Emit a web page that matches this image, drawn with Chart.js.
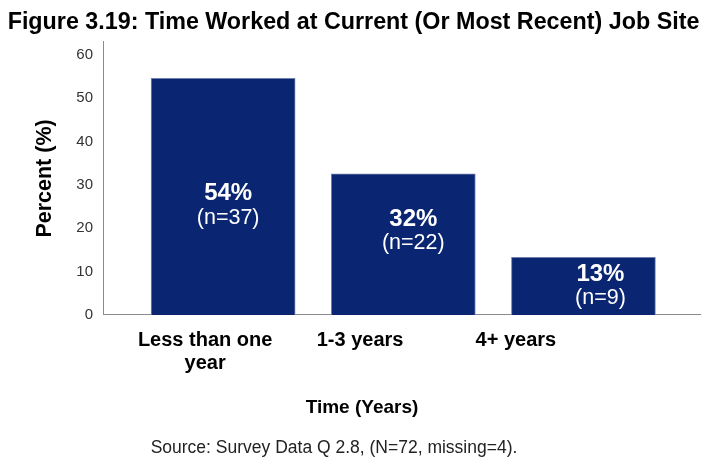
<!DOCTYPE html>
<html>
<head>
<meta charset="utf-8">
<script src="https://cdn.jsdelivr.net/npm/chart.js@4"></script>
<style>
  html, body { margin: 0; padding: 0; background: #fff; }
  #wrap { width: 707px; height: 457px; }
</style>
</head>
<body>
<div id="wrap"><canvas id="chart"></canvas></div>
<script>
// data
const categories = [['Less than one', 'year'], '1-3 years', '4+ years'];
const percents = [54.6, 32.6, 13.3];
const counts = [37, 22, 9];
const pctLabels = ['54%', '32%', '13%'];
const yTicks = [0, 10, 20, 30, 40, 50, 60];

const chartTitle = 'Figure 3.19: Time Worked at Current (Or Most Recent) Job Site';
const xTitle = 'Time (Years)';
const yTitle = 'Percent (%)';
const sourceNote = 'Source: Survey Data Q 2.8, (N=72, missing=4).';

// hand placement in the original: value labels inside bars, category labels sit left of the bars
const labelNudge = [[5, 9], [10, -13], [17, 0]];
const tickShift = [-0.1, -0.24, -0.375];

const FONT = '"Liberation Sans", Arial, sans-serif';

const barLabels = {
    id: 'barLabels',
    afterDatasetsDraw(chart) {
        const ctx = chart.ctx;
        const meta = chart.getDatasetMeta(0);
        ctx.save();
        ctx.fillStyle = '#ffffff';
        ctx.textAlign = 'center';
        ctx.textBaseline = 'middle';
        meta.data.forEach((bar, i) => {
            const cx = bar.x + labelNudge[i][0];
            const cy = (bar.y + bar.base) / 2 + labelNudge[i][1];
            ctx.font = 'bold 24px ' + FONT;
            ctx.fillText(pctLabels[i], cx, cy - 12);
            ctx.font = '21.5px ' + FONT;
            ctx.fillText('(n=' + counts[i] + ')', cx, cy + 12);
        });
        ctx.restore();
    }
};

const bottomTexts = {
    id: 'bottomTexts',
    afterDraw(chart) {
        const ctx = chart.ctx;
        const b = chart.chartArea.bottom;
        ctx.save();
        ctx.fillStyle = '#000';
        ctx.textAlign = 'center';
        ctx.textBaseline = 'middle';
        ctx.font = 'bold 19px ' + FONT;
        ctx.fillText(xTitle, 362, b + 93);
        ctx.fillStyle = '#222';
        ctx.font = '17.5px ' + FONT;
        ctx.fillText(sourceNote, 334, b + 133);
        ctx.restore();
    }
};

new Chart(document.getElementById('chart'), {
    type: 'bar',
    data: {
        datasets: [{
            data: percents.map((v, i) => ({ x: i, y: v })),
            backgroundColor: '#0a2672',
            borderColor: '#7080ad',
            borderWidth: 1,
            barThickness: 144
        }]
    },
    options: {
        responsive: true,
        maintainAspectRatio: false,
        animation: false,
        layout: { padding: { left: 7, right: 7, top: 0, bottom: 0 } },
        plugins: {
            legend: { display: false },
            tooltip: { enabled: false },
            title: {
                display: true,
                text: chartTitle,
                color: '#000',
                font: { family: FONT, size: 23.3, weight: 'bold' },
                padding: { top: 9, bottom: 5 }
            }
        },
        scales: {
            x: {
                type: 'linear',
                offset: false,
                min: -0.667,
                max: 2.647,
                grid: { display: false, drawTicks: false },
                border: { display: true, color: '#8a8a8a' },
                afterBuildTicks: axis => {
                    axis.ticks = categories.map((c, i) => ({ value: i + tickShift[i] }));
                },
                afterFit: axis => { axis.height = 142; },
                ticks: {
                    autoSkip: false,
                    maxRotation: 0,
                    padding: 14,
                    color: '#000',
                    font: { family: FONT, size: 20, weight: 'bold', lineHeight: 1.15 },
                    callback: (v, i) => categories[i]
                }
            },
            y: {
                min: 0,
                max: 63,
                grid: { display: false, drawTicks: false },
                border: { display: true, color: '#8a8a8a' },
                afterBuildTicks: axis => {
                    axis.ticks = yTicks.map(v => ({ value: v }));
                },
                afterFit: axis => { axis.width = 96; },
                ticks: {
                    padding: 10,
                    color: '#333',
                    font: { family: FONT, size: 15 }
                },
                title: {
                    display: true,
                    text: yTitle,
                    color: '#000',
                    font: { family: FONT, size: 21.5, weight: 'bold' },
                    padding: { top: 25, bottom: 0 }
                }
            }
        }
    },
    plugins: [barLabels, bottomTexts]
});
</script>
</body>
</html>
